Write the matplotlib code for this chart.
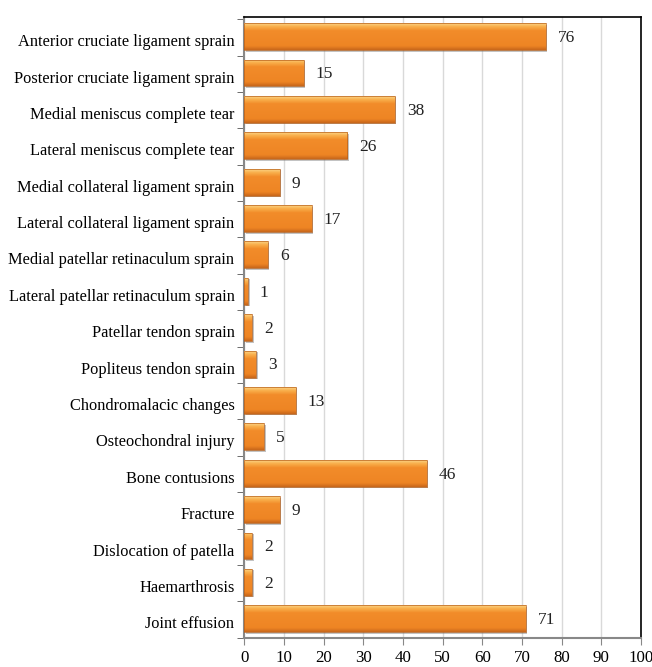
import matplotlib
matplotlib.use("Agg")
import matplotlib.pyplot as plt
import numpy as np
from matplotlib.colors import LinearSegmentedColormap
from matplotlib.patches import Rectangle
import matplotlib.transforms as mtransforms

categories = [
    "Anterior cruciate ligament sprain",
    "Posterior cruciate ligament sprain",
    "Medial meniscus complete tear",
    "Lateral meniscus complete tear",
    "Medial collateral ligament sprain",
    "Lateral collateral ligament sprain",
    "Medial patellar retinaculum sprain",
    "Lateral patellar retinaculum sprain",
    "Patellar tendon sprain",
    "Popliteus tendon sprain",
    "Chondromalacic changes",
    "Osteochondral injury",
    "Bone contusions",
    "Fracture",
    "Dislocation of patella",
    "Haemarthrosis",
    "Joint effusion",
]
values = [76, 15, 38, 26, 9, 17, 6, 1, 2, 3, 13, 5, 46, 9, 2, 2, 71]
xticks = list(range(0, 101, 10))

plt.rcParams['font.family'] = ['Liberation Serif', 'DejaVu Serif']

fig = plt.figure(figsize=(6.52, 6.67), dpi=100)
ax = fig.add_axes([0.3745, 0.0440, 0.6085, 0.9305])

n = len(categories)
ypos = np.arange(n)
# colours ordered top -> bottom of each bar
cmap = LinearSegmentedColormap.from_list(
    "og", [(0.0, "#FCD488"), (0.12, "#F9B04C"), (0.28, "#F28C2A"),
           (0.85, "#EE8524"), (1.0, "#C9671B")])
grad = np.linspace(0, 1, 64).reshape(-1, 1)

bars = ax.barh(ypos + 0.04, values, height=0.74, color="#F08A2A", edgecolor="none",
               linewidth=0, zorder=3)
shadow_off = mtransforms.offset_copy(ax.transData, fig=fig, x=1.5, y=-1.5, units='dots')
for b in bars:
    x0, y0 = b.get_x(), b.get_y()
    w, h = b.get_width(), b.get_height()
    ax.add_patch(Rectangle((x0, y0), w, h, facecolor="#7a7a7a", alpha=0.45,
                           edgecolor='none', transform=shadow_off, zorder=2.8))
    im = ax.imshow(grad, extent=[x0, x0 + w, y0 + h, y0], cmap=cmap, aspect='auto',
                   origin='upper', zorder=3.5, interpolation='bilinear')
    im.set_clip_path(b)
    ax.add_patch(Rectangle((x0, y0), w, h, fill=False, edgecolor="#B8601A",
                           linewidth=0.5, zorder=4))

for y, v in zip(ypos, values):
    ax.annotate(str(v), (v, y + 0.04), xytext=(8.5, -1), textcoords='offset points',
                va='center', ha='left', fontsize=12.5, color='#222222')

ax.set_xlim(0, 100)
ax.set_ylim(n - 0.5, -0.5)
ax.set_xticks(xticks)
ax.set_xticklabels([str(t) for t in xticks], fontsize=12.2)
ax.set_yticks(ypos)
ax.set_yticklabels(categories, fontsize=11.8)
ax.tick_params(axis='y', length=0, pad=7)
label_shift = mtransforms.ScaledTranslation(0, -5 / 100, fig.dpi_scale_trans)
for lbl in ax.get_yticklabels():
    lbl.set_transform(lbl.get_transform() + label_shift)
last_shift = mtransforms.ScaledTranslation(-5 / 100, 0, fig.dpi_scale_trans)
xlbls = ax.get_xticklabels()
xlbls[-1].set_transform(xlbls[-1].get_transform() + last_shift)
ax.set_yticks(np.arange(-0.5, n, 1) + 0.06, minor=True)
ax.tick_params(axis='y', which='minor', length=5, color='#555555')
ax.tick_params(axis='x', length=5, color='#888888', pad=4)
ax.xaxis.grid(True, color='#D9D9D9', linewidth=1.0, zorder=0)
ax.set_axisbelow(True)

ax.spines['top'].set_color('black')
ax.spines['right'].set_color('black')
ax.spines['top'].set_linewidth(1.2)
ax.spines['right'].set_linewidth(1.2)
ax.spines['bottom'].set_color('#888888')
ax.spines['left'].set_color('#888888')
ax.spines['bottom'].set_linewidth(1.5)
ax.spines['left'].set_linewidth(1.5)

fig.savefig("out.png", dpi=100)
